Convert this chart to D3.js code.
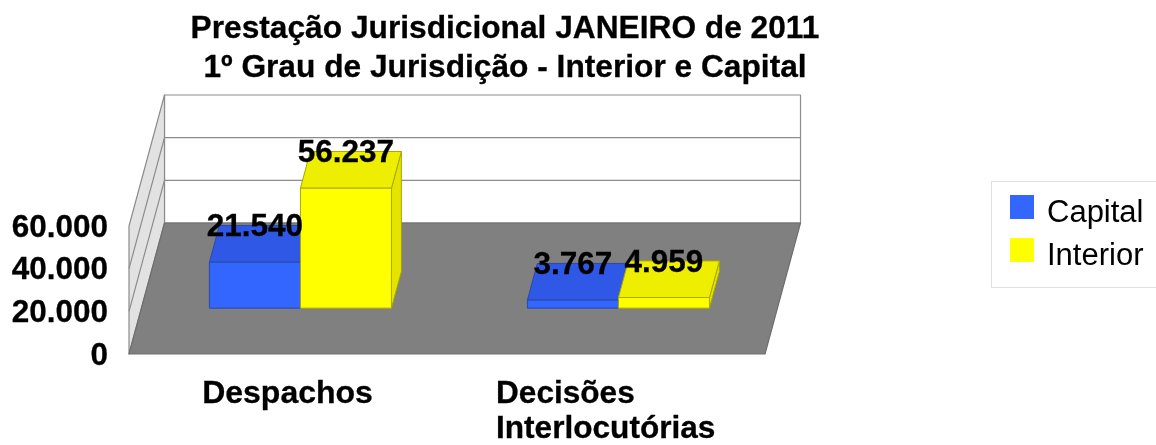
<!DOCTYPE html>
<html>
<head>
<meta charset="utf-8">
<script src="https://cdn.jsdelivr.net/npm/d3@7"></script>
<style>
    html, body {margin: 0; padding: 0; background: #fff; overflow: hidden;}
    svg {display: block; filter: blur(0.7px);}
    text {font-family: "Liberation Sans", Arial, sans-serif; fill: #000;}
    .bold {font-weight: bold; stroke: #000; stroke-width: 0.3px;}
</style>
</head>
<body>
<div class="container"></div>
<script>
const categories = ['Despachos', 'Decisões Interlocutórias'],
    categoryLines = [['Despachos'], ['Decisões', 'Interlocutórias']],
    seriesNames = ['Capital', 'Interior'],
    capitalValues = [21540, 3767],
    interiorValues = [56237, 4959],
    tickValues = [0, 20000, 40000, 60000],
    titleLines = ['Prestação Jurisdicional JANEIRO de 2011', '1º Grau de Jurisdição - Interior e Capital'];

const width = 1156,
    height = 445,
    colors = {
        Capital: {front: '#3366ff', top: '#2f58e6', side: '#2b50d0', stroke: '#2a4aa8'},
        Interior: {front: '#ffff00', top: '#eeee00', side: '#e4e400', stroke: '#a8a800'}
    };

const locale = d3.formatLocale({decimal: ',', thousands: '.', grouping: [3], currency: ['', '']}),
    fmt = locale.format(',');

const xCat = d3.scaleBand().domain(categories).range([129, 765]);

const xSeries = d3.scaleBand()
    .domain(seriesNames)
    .range([0, xCat.bandwidth()])
    .paddingInner(0)
    .paddingOuter(0.747);

const yScale = d3.scaleLinear().domain([0, 60000]).range([354, 226]);

// depth goes from the front edge of the floor (0) to the back wall (1)
const project = (x, y, z) => [x + 35.5 * z, y - 131 * z],
    barFront = 0.35,
    barBack = 0.63;

const svg = d3.select('.container')
    .append('svg')
    .attr('width', width)
    .attr('height', height);

const poly = (pts, fill, stroke, sw) => svg.append('polygon')
    .attr('points', pts.map(p => p.join(',')).join(' '))
    .attr('fill', fill)
    .attr('stroke', stroke)
    .attr('stroke-width', sw)
    .attr('stroke-linejoin', 'round');

const x0 = xCat.range()[0],
    x1 = xCat.range()[1],
    yBase = yScale(0),
    yTop = yScale(60000);

// back wall and left wall
poly([project(x0, yBase, 1), project(x1, yBase, 1), project(x1, yTop, 1), project(x0, yTop, 1)], '#fff', '#8c8c8c', 1.2);
poly([project(x0, yBase, 0), project(x0, yBase, 1), project(x0, yTop, 1), project(x0, yTop, 0)], '#e2e2e2', '#8c8c8c', 1.2);

tickValues.slice(1, -1).forEach(v => {
    const y = yScale(v),
        a = project(x0, y, 0),
        b = project(x0, y, 1),
        c = project(x1, y, 1);
    svg.append('polyline')
        .attr('points', [a, b, c].map(p => p.join(',')).join(' '))
        .attr('fill', 'none')
        .attr('stroke', '#8c8c8c')
        .attr('stroke-width', 1.2);
});

// floor
poly([project(x0, yBase, 0), project(x1, yBase, 0), project(x1, yBase, 1), project(x0, yBase, 1)], '#808080', '#6e6e6e', 1.2);

const seriesValues = {Capital: capitalValues, Interior: interiorValues},
    labels = [];

seriesNames.forEach(name => {
    const c = colors[name];
    categories.forEach((cat, i) => {
        const value = seriesValues[name][i],
            left = xCat(cat) + xSeries(name),
            right = left + xSeries.bandwidth(),
            yV = yScale(value);

        poly([project(right, yBase, barFront), project(right, yBase, barBack), project(right, yV, barBack), project(right, yV, barFront)], c.side, c.stroke, 1);
        poly([project(left, yV, barFront), project(right, yV, barFront), project(right, yV, barBack), project(left, yV, barBack)], c.top, c.stroke, 1);
        poly([project(left, yBase, barFront), project(right, yBase, barFront), project(right, yV, barFront), project(left, yV, barFront)], c.front, c.stroke, 1);

        const pos = project((left + right) / 2, yV, barFront);
        labels.push({x: pos[0], y: pos[1] - 26, text: fmt(value)});
    });
});

svg.selectAll('.value')
    .data(labels)
    .enter()
    .append('text')
    .attr('class', 'value bold')
    .attr('x', d => d.x)
    .attr('y', d => d.y)
    .attr('text-anchor', 'middle')
    .style('font-size', '31.5px')
    .text(d => d.text);

// y axis, labels only
const axis = svg.append('g')
    .attr('transform', 'translate(108, 0)')
    .call(d3.axisLeft(yScale).tickValues(tickValues).tickSize(0).tickPadding(0).tickFormat(fmt));

axis.select('.domain').remove();
axis.selectAll('text')
    .attr('class', 'bold')
    .style('font-size', '31.5px')
    .style('font-family', '"Liberation Sans", Arial, sans-serif')
    .style('fill', '#000');

// category labels
categories.forEach((cat, i) => {
    const lines = categoryLines[i];
    if (lines.length === 1) {
        svg.append('text')
            .attr('class', 'bold')
            .attr('x', xCat(cat) + xCat.bandwidth() / 2 - 0.5)
            .attr('y', 403)
            .attr('text-anchor', 'middle')
            .style('font-size', '32px')
            .text(lines[0]);
    } else {
        lines.forEach((line, j) => {
            svg.append('text')
                .attr('class', 'bold')
                .attr('x', 496)
                .attr('y', 403 + j * 35)
                .style('font-size', '31.6px')
                .text(line);
        });
    }
});

// title
titleLines.forEach((line, i) => {
    svg.append('text')
        .attr('class', 'bold')
        .attr('x', 505)
        .attr('y', 38 + i * 38.5)
        .attr('text-anchor', 'middle')
        .style('font-size', '31.7px')
        .text(line);
});

// legend
svg.append('rect')
    .attr('x', 991.5)
    .attr('y', 181.5)
    .attr('width', 180)
    .attr('height', 106)
    .attr('fill', '#fff')
    .attr('stroke', '#e0e0e0');

seriesNames.forEach((name, i) => {
    svg.append('rect')
        .attr('x', 1010)
        .attr('y', 195 + i * 43)
        .attr('width', 24)
        .attr('height', 24)
        .attr('fill', colors[name].front);
    svg.append('text')
        .attr('x', 1047)
        .attr('y', 222 + i * 43)
        .style('font-size', '31px')
        .text(name);
});
</script>
</body>
</html>
